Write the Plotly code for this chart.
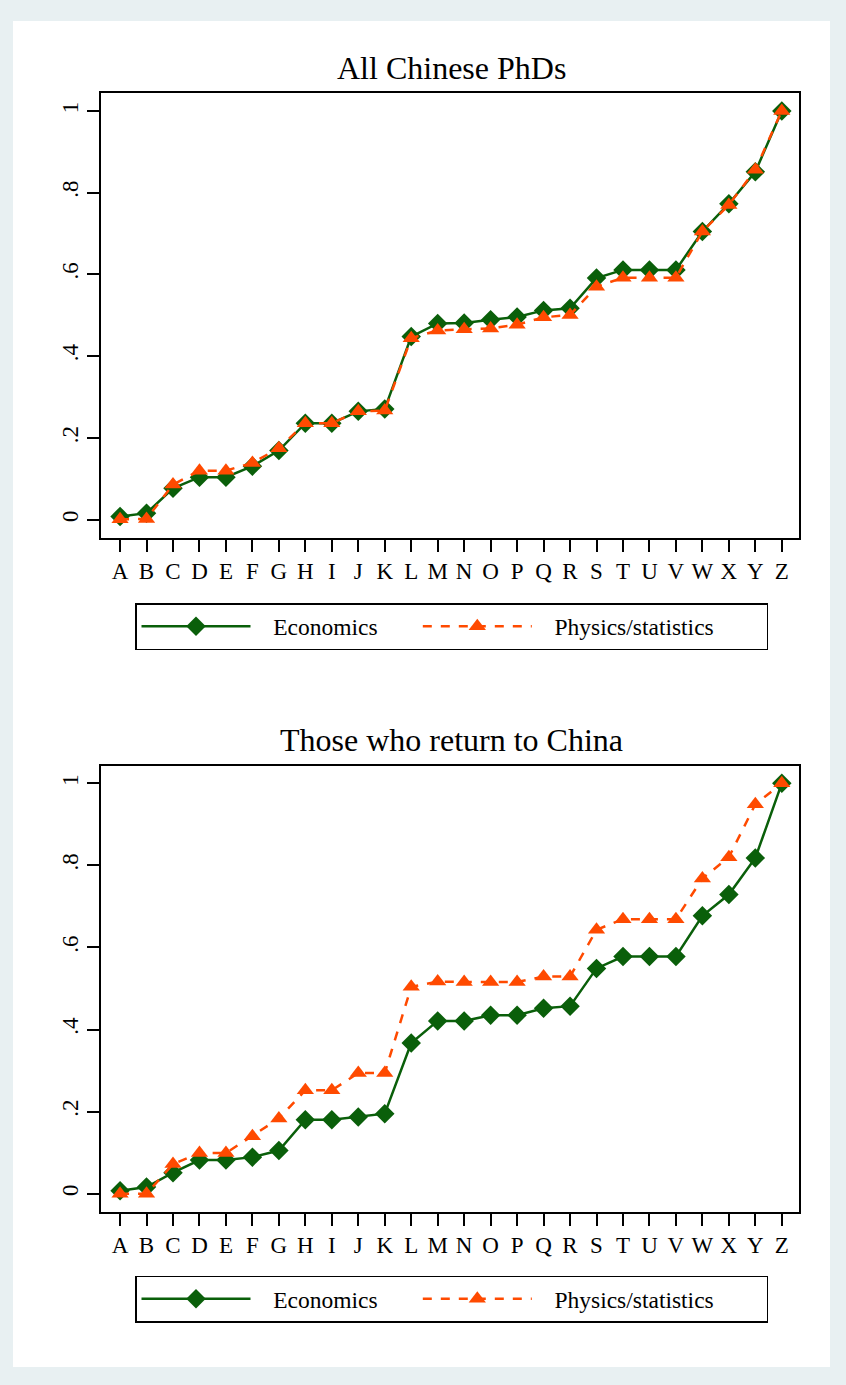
import plotly.graph_objects as go

categories = list("ABCDEFGHIJKLMNOPQRSTUVWXYZ")

econ_all = [0.008, 0.016, 0.077, 0.104, 0.104, 0.131, 0.169, 0.236, 0.236, 0.265, 0.271,
            0.448, 0.480, 0.481, 0.489, 0.496, 0.512, 0.517, 0.591, 0.611, 0.611, 0.611,
            0.705, 0.773, 0.851, 1.0]
phys_all = [0.001, 0.002, 0.086, 0.120, 0.120, 0.139, 0.175, 0.236, 0.236, 0.265, 0.267,
            0.444, 0.463, 0.466, 0.468, 0.477, 0.495, 0.501, 0.570, 0.592, 0.592, 0.592,
            0.705, 0.770, 0.856, 1.0]

econ_ret = [0.007, 0.016, 0.051, 0.082, 0.082, 0.089, 0.105, 0.180, 0.180, 0.187, 0.195,
            0.367, 0.421, 0.421, 0.435, 0.435, 0.452, 0.457, 0.549, 0.578, 0.578, 0.578,
            0.677, 0.729, 0.818, 1.0]
phys_ret = [0.000, 0.000, 0.072, 0.099, 0.099, 0.140, 0.183, 0.252, 0.252, 0.294, 0.294,
            0.504, 0.517, 0.516, 0.516, 0.516, 0.529, 0.529, 0.643, 0.669, 0.669, 0.669,
            0.768, 0.820, 0.949, 1.0]

titles = ["All Chinese PhDs", "Those who return to China"]
series_names = ["Economics", "Physics/statistics"]
yticks = [0, 0.2, 0.4, 0.6, 0.8, 1]
yticklabels = ["0", ".2", ".4", ".6", ".8", "1"]

GREEN = "#0a5f0a"
ORANGE = "#ff4a00"
FONT = "Times New Roman, Liberation Serif, DejaVu Serif, serif"
W, H = 846, 1385
NB = "\u00a0"

# legend labels padded with non-breaking spaces to space the entries like the original
legend_labels = [NB * 3 + series_names[0] + NB * 6, NB * 3 + series_names[1] + NB * 8]

xs = list(range(len(categories)))
fig = go.Figure()

panels = [(econ_all, phys_all), (econ_ret, phys_ret)]
for i, (e, p) in enumerate(panels):
    sfx = "" if i == 0 else "2"
    leg = "legend" if i == 0 else "legend2"
    fig.add_trace(go.Scatter(x=xs, y=e, mode="lines+markers", name=legend_labels[0],
                             line=dict(color=GREEN, width=2.5),
                             marker=dict(symbol="diamond", size=15, color=GREEN),
                             xaxis="x" + sfx, yaxis="y" + sfx, legend=leg))
    fig.add_trace(go.Scatter(x=xs, y=p, mode="lines+markers", name=legend_labels[1],
                             line=dict(color=ORANGE, width=2.5, dash="dash"),
                             marker=dict(symbol="triangle-up", size=15, color=ORANGE),
                             xaxis="x" + sfx, yaxis="y" + sfx, legend=leg))

xdom = [101 / W, 799 / W]
ydoms = [[(H - 537.7) / H, (H - 93.3) / H], [(H - 1211.7) / H, (H - 765.7) / H]]

axis_common = dict(showline=True, linecolor="black", linewidth=2, mirror=True,
                   ticks="outside", ticklen=12, tickwidth=1.5, tickcolor="black",
                   showgrid=False, zeroline=False,
                   tickfont=dict(family=FONT, size=23, color="black"))

layout = dict(
    width=W, height=H,
    paper_bgcolor="#e8f0f2", plot_bgcolor="white",
    margin=dict(l=0, r=0, t=0, b=0, pad=0),
    font=dict(family=FONT, color="black"),
    showlegend=True,
)
for i in range(2):
    sfx = "" if i == 0 else "2"
    layout["xaxis" + sfx] = dict(axis_common, domain=xdom, range=[-0.72, 25.65],
                                 tickmode="array", tickvals=xs, ticktext=categories,
                                 anchor="y" + sfx)
    layout["yaxis" + sfx] = dict(axis_common, domain=ydoms[i], range=[-0.044, 1.043],
                                 tickmode="array", tickvals=yticks, ticktext=yticklabels,
                                 tickangle=-90, anchor="x" + sfx)

leg_common = dict(orientation="h", xanchor="left", yanchor="middle",
                  bordercolor="black", borderwidth=1.5, bgcolor="white",
                  font=dict(family=FONT, size=23.5, color="black"),
                  itemwidth=109)
layout["legend"] = dict(leg_common, x=135 / W, y=(H - 626.5) / H)
layout["legend2"] = dict(leg_common, x=135 / W, y=(H - 1299) / H)

fig.update_layout(**layout)

fig.add_shape(type="rect", xref="paper", yref="paper", x0=13 / W, x1=830 / W,
              y0=(H - 1367) / H, y1=(H - 21) / H, fillcolor="white",
              line=dict(width=0), layer="below")

title_y = [68, 740]
for t, ty in zip(titles, title_y):
    fig.add_annotation(text=t, xref="paper", yref="paper", x=451 / W, y=(H - ty) / H,
                       xanchor="center", yanchor="middle", showarrow=False,
                       font=dict(family=FONT, size=32, color="black"))

fig.write_html("out.html", config={"displayModeBar": False},
               post_script="document.body.style.margin='0px';document.body.style.overflow='hidden';")
